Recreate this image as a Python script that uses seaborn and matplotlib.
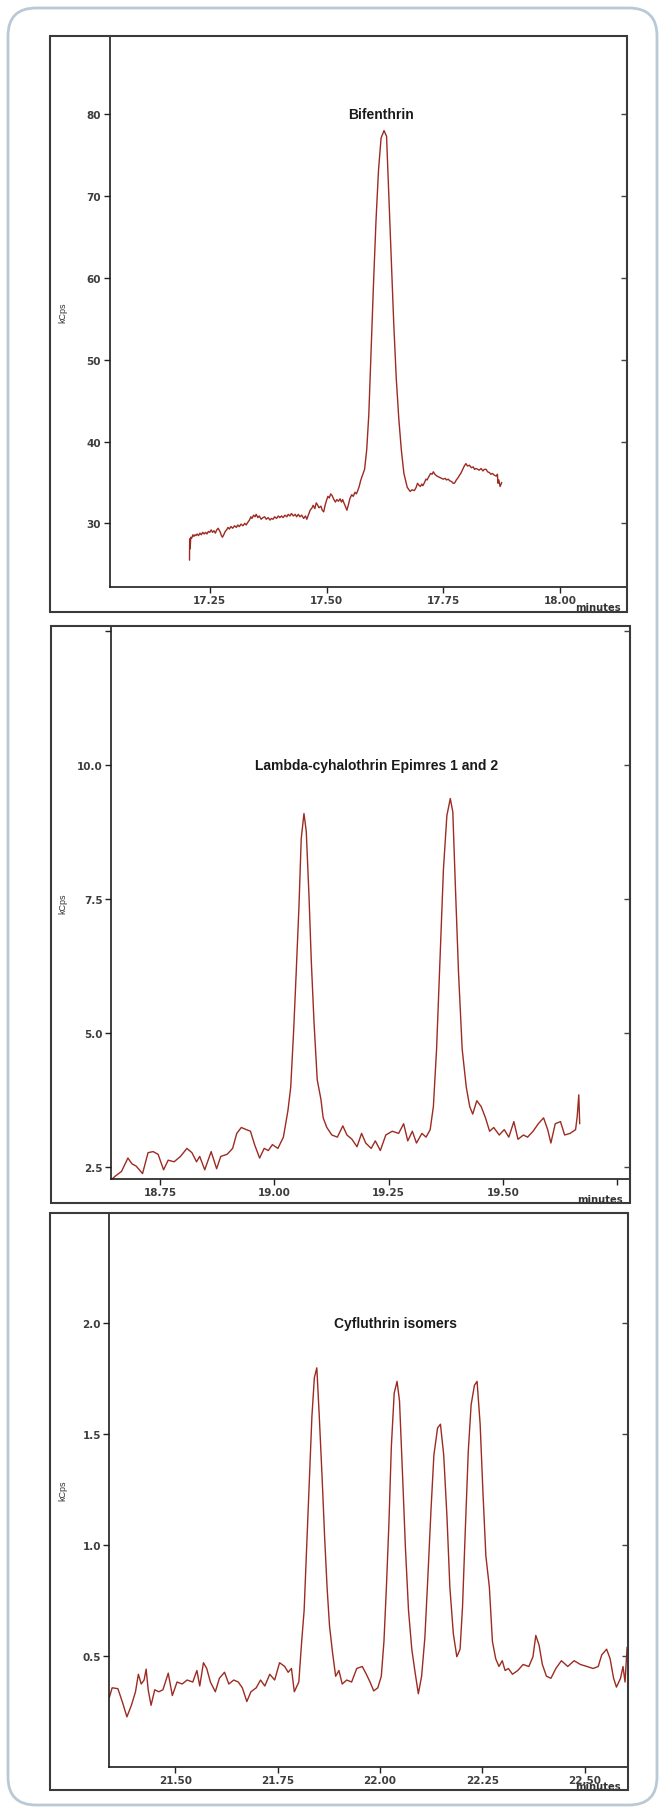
import matplotlib
matplotlib.use("Agg")
import matplotlib.pyplot as plt
import matplotlib.transforms as mtransforms
from matplotlib.patches import Rectangle, FancyBboxPatch
import pandas as pd
import seaborn as sns

# ---------------- data ----------------
# Bifenthrin trace: (minutes, kCps)
bif_points = [
    (17.2066, 25.5), (17.2070, 28.1), (17.2080, 26.9), (17.2093, 28.3), (17.2115, 28.2),
    (17.2139, 28.6), (17.2160, 28.4), (17.2184, 28.6), (17.2205, 28.5), (17.2229, 28.7),
    (17.2260, 28.5), (17.2290, 28.8), (17.2319, 28.6), (17.2350, 28.9), (17.2380, 28.7),
    (17.2410, 28.9), (17.2440, 28.7), (17.2470, 29.0), (17.2500, 28.9), (17.2530, 29.2),
    (17.2560, 28.9), (17.2590, 29.1), (17.2620, 28.8), (17.2650, 29.2), (17.2681, 29.4),
    (17.2726, 28.9), (17.2750, 28.5), (17.2771, 28.3), (17.2800, 28.6), (17.2830, 29.0),
    (17.2861, 29.2), (17.2890, 29.5), (17.2920, 29.3), (17.2952, 29.6), (17.2990, 29.4),
    (17.3030, 29.7), (17.3070, 29.5), (17.3100, 29.8), (17.3133, 29.6), (17.3170, 29.9),
    (17.3210, 29.7), (17.3250, 30.0), (17.3280, 29.8), (17.3313, 30.1), (17.3350, 30.4),
    (17.3380, 30.8), (17.3404, 30.6), (17.3440, 31.0), (17.3470, 30.8), (17.3494, 31.1),
    (17.3530, 30.7), (17.3560, 30.9), (17.3600, 30.5), (17.3640, 30.7), (17.3675, 30.8),
    (17.3710, 30.5), (17.3750, 30.7), (17.3790, 30.4), (17.3820, 30.6), (17.3855, 30.5),
    (17.3890, 30.8), (17.3930, 30.6), (17.3970, 30.9), (17.4000, 30.7), (17.4036, 30.9),
    (17.4070, 30.7), (17.4110, 31.0), (17.4150, 30.8), (17.4180, 31.1), (17.4217, 30.9),
    (17.4250, 31.2), (17.4290, 30.9), (17.4330, 31.1), (17.4360, 30.8), (17.4398, 31.1),
    (17.4430, 30.8), (17.4470, 31.0), (17.4510, 30.6), (17.4550, 30.9), (17.4578, 30.5),
    (17.4610, 31.0), (17.4650, 31.6), (17.4690, 31.9), (17.4714, 32.2), (17.4750, 31.8),
    (17.4780, 32.5), (17.4804, 32.3), (17.4840, 31.9), (17.4880, 32.1), (17.4910, 31.6),
    (17.4940, 31.4), (17.4970, 32.2), (17.5000, 32.8), (17.5030, 33.3), (17.5060, 33.1),
    (17.5090, 33.6), (17.5120, 33.4), (17.5150, 33.0), (17.5190, 32.6), (17.5220, 32.9),
    (17.5256, 32.7), (17.5290, 33.0), (17.5320, 32.6), (17.5346, 32.9), (17.5380, 32.4),
    (17.5410, 32.0), (17.5437, 31.6), (17.5470, 32.3), (17.5500, 33.0), (17.5540, 33.5),
    (17.5572, 33.3), (17.5610, 33.8), (17.5640, 33.6), (17.5663, 33.9), (17.5700, 34.5),
    (17.5730, 35.2), (17.5753, 35.6), (17.5816, 36.6), (17.5861, 39.0), (17.5906, 43.3),
    (17.5952, 50.6), (17.6006, 59.2), (17.6060, 67.0), (17.6114, 73.2), (17.6169, 77.1),
    (17.6232, 78.0), (17.6286, 77.3), (17.6331, 70.7), (17.6385, 62.6), (17.6440, 54.4),
    (17.6494, 47.7), (17.6548, 42.8), (17.6602, 39.0), (17.6657, 36.1), (17.6729, 34.4),
    (17.6792, 33.9), (17.6830, 34.1), (17.6882, 34.0), (17.6920, 34.4), (17.6950, 34.9),
    (17.6973, 34.7), (17.7010, 34.5), (17.7040, 34.8), (17.7063, 34.6), (17.7100, 35.0),
    (17.7130, 35.4), (17.7154, 35.3), (17.7190, 35.7), (17.7230, 36.1), (17.7260, 36.0),
    (17.7289, 36.3), (17.7320, 36.0), (17.7360, 35.8), (17.7390, 35.7), (17.7425, 35.6),
    (17.7460, 35.5), (17.7500, 35.4), (17.7540, 35.5), (17.7570, 35.3), (17.7605, 35.4),
    (17.7640, 35.2), (17.7680, 35.1), (17.7710, 34.9), (17.7741, 34.9), (17.7780, 35.3),
    (17.7820, 35.6), (17.7850, 35.9), (17.7876, 36.1), (17.7910, 36.5), (17.7950, 37.0),
    (17.7985, 37.3), (17.8020, 37.0), (17.8060, 37.1), (17.8102, 36.8), (17.8140, 36.9),
    (17.8170, 36.6), (17.8200, 36.7), (17.8238, 36.6), (17.8270, 36.5), (17.8310, 36.7),
    (17.8350, 36.4), (17.8380, 36.6), (17.8418, 36.6), (17.8450, 36.3), (17.8490, 36.2),
    (17.8520, 36.0), (17.8554, 36.1), (17.8590, 35.9), (17.8620, 35.8), (17.8644, 35.8),
    (17.8660, 36.0), (17.8671, 34.9), (17.8690, 35.3), (17.8717, 34.5), (17.8753, 35.0),
]
bif_time = [p[0] for p in bif_points]
bif_kcps = [p[1] for p in bif_points]

lam_time = [18.6445, 18.652, 18.666, 18.680, 18.689, 18.698, 18.712, 18.724, 18.735, 18.746,
            18.758, 18.768, 18.781, 18.795, 18.809, 18.820, 18.830, 18.837, 18.848, 18.862,
            18.874, 18.883, 18.897, 18.909, 18.918, 18.928, 18.939, 18.948, 18.957, 18.968,
            18.978, 18.987, 18.996, 19.008, 19.020, 19.030, 19.036, 19.0425, 19.048, 19.054,
            19.059, 19.065, 19.070, 19.076, 19.081, 19.087, 19.094, 19.102, 19.107, 19.115,
            19.126, 19.138, 19.150, 19.159, 19.170, 19.181, 19.191, 19.200, 19.212, 19.221,
            19.232, 19.244, 19.258, 19.272, 19.283, 19.292, 19.302, 19.311, 19.323, 19.332,
            19.341, 19.348, 19.355, 19.363, 19.370, 19.3775, 19.385, 19.3905, 19.396, 19.403,
            19.411, 19.420, 19.4275, 19.434, 19.443, 19.4525, 19.462, 19.471, 19.480, 19.492,
            19.503, 19.513, 19.524, 19.533, 19.545, 19.554, 19.566, 19.5775, 19.589, 19.598,
            19.605, 19.6145, 19.626, 19.635, 19.647, 19.659, 19.6626, 19.666, 19.668]
lam_kcps = [2.26, 2.32, 2.41, 2.66, 2.55, 2.51, 2.37, 2.76, 2.78, 2.73,
            2.44, 2.62, 2.59, 2.69, 2.84, 2.76, 2.59, 2.69, 2.44, 2.78,
            2.46, 2.69, 2.73, 2.84, 3.12, 3.23, 3.19, 3.16, 2.91, 2.66,
            2.84, 2.80, 2.91, 2.84, 3.05, 3.55, 3.98, 5.05, 6.12, 7.34,
            8.62, 9.09, 8.76, 7.55, 6.34, 5.19, 4.12, 3.76, 3.41, 3.23,
            3.09, 3.05, 3.26, 3.09, 3.01, 2.87, 3.12, 2.94, 2.84, 2.98,
            2.80, 3.09, 3.16, 3.12, 3.30, 2.98, 3.16, 2.94, 3.12, 3.05,
            3.19, 3.62, 4.69, 6.48, 8.05, 9.05, 9.37, 9.12, 7.76, 6.12,
            4.69, 3.98, 3.62, 3.48, 3.73, 3.62, 3.41, 3.16, 3.23, 3.09,
            3.19, 3.05, 3.34, 3.01, 3.09, 3.05, 3.16, 3.30, 3.41, 3.19,
            2.94, 3.30, 3.34, 3.09, 3.12, 3.19, 3.44, 3.84, 3.30]

cyf_time = [21.339, 21.346, 21.360, 21.372, 21.382, 21.393, 21.403, 21.410, 21.417, 21.424,
            21.429, 21.434, 21.441, 21.450, 21.460, 21.470, 21.483, 21.493, 21.5045, 21.517,
            21.529, 21.543, 21.553, 21.560, 21.569, 21.577, 21.586, 21.598, 21.608, 21.6205,
            21.631, 21.643, 21.654, 21.664, 21.675, 21.685, 21.698, 21.7085, 21.719, 21.731,
            21.743, 21.755, 21.7675, 21.776, 21.784, 21.791, 21.802, 21.809, 21.815, 21.821,
            21.8275, 21.834, 21.840, 21.846, 21.852, 21.859, 21.865, 21.871, 21.877, 21.8845,
            21.892, 21.900, 21.908, 21.919, 21.931, 21.9435, 21.957, 21.967, 21.976, 21.985,
            21.995, 22.0035, 22.010, 22.016, 22.022, 22.028, 22.035, 22.042, 22.048, 22.055,
            22.0625, 22.070, 22.078, 22.086, 22.094, 22.102, 22.110, 22.117, 22.125, 22.132,
            22.141, 22.148, 22.156, 22.164, 22.171, 22.1795, 22.188, 22.196, 22.202, 22.2085,
            22.216, 22.223, 22.231, 22.2375, 22.245, 22.252, 22.259, 22.2675, 22.275, 22.283,
            22.291, 22.299, 22.306, 22.314, 22.324, 22.337, 22.350, 22.364, 22.374, 22.381,
            22.389, 22.397, 22.407, 22.418, 22.430, 22.4435, 22.459, 22.4745, 22.490, 22.506,
            22.521, 22.5335, 22.542, 22.554, 22.5625, 22.571, 22.578, 22.588, 22.594, 22.599,
            22.604]
cyf_kcps = [0.313, 0.357, 0.353, 0.287, 0.226, 0.278, 0.339, 0.418, 0.374, 0.392,
            0.441, 0.348, 0.278, 0.348, 0.339, 0.348, 0.423, 0.322, 0.383, 0.374,
            0.392, 0.383, 0.435, 0.365, 0.470, 0.444, 0.383, 0.339, 0.400, 0.427,
            0.374, 0.392, 0.383, 0.357, 0.295, 0.339, 0.357, 0.392, 0.365, 0.418,
            0.392, 0.470, 0.453, 0.427, 0.444, 0.339, 0.383, 0.566, 0.706, 0.986,
            1.301, 1.580, 1.755, 1.799, 1.580, 1.301, 1.038, 0.811, 0.636, 0.514,
            0.409, 0.435, 0.374, 0.392, 0.383, 0.444, 0.453, 0.418, 0.383, 0.343,
            0.357, 0.409, 0.566, 0.811, 1.091, 1.441, 1.685, 1.738, 1.650, 1.336,
            0.986, 0.706, 0.531, 0.427, 0.330, 0.409, 0.584, 0.846, 1.161, 1.406,
            1.528, 1.545, 1.406, 1.126, 0.811, 0.601, 0.497, 0.531, 0.724, 1.056,
            1.423, 1.633, 1.720, 1.738, 1.545, 1.231, 0.951, 0.811, 0.566, 0.488,
            0.453, 0.479, 0.435, 0.444, 0.418, 0.435, 0.462, 0.453, 0.497, 0.593,
            0.549, 0.462, 0.409, 0.400, 0.444, 0.479, 0.453, 0.479, 0.462, 0.453,
            0.444, 0.453, 0.505, 0.531, 0.488, 0.400, 0.360, 0.400, 0.453, 0.383,
            0.540]

panel_titles = ["Bifenthrin", "Lambda-cyhalothrin Epimres 1 and 2", "Cyfluthrin isomers"]
x_ticks = [[17.25, 17.50, 17.75, 18.00],
           [18.75, 19.00, 19.25, 19.50, 19.75],
           [21.50, 21.75, 22.00, 22.25, 22.50]]
x_ticklabels = [["17.25", "17.50", "17.75", "18.00"],
                ["18.75", "19.00", "19.25", "19.50", ""],
                ["21.50", "21.75", "22.00", "22.25", "22.50"]]
y_ticks = [[30, 40, 50, 60, 70, 80],
           [2.5, 5.0, 7.5, 10.0, 12.5],
           [0.5, 1.0, 1.5, 2.0]]
y_ticklabels = [["30", "40", "50", "60", "70", "80"],
                ["2.5", "5.0", "7.5", "10.0", ""],
                ["0.5", "1.0", "1.5", "2.0"]]
x_label = "minutes"
y_label = "kCps"

# ---------------- layout / style ----------------
x_limits = [(17.0353, 18.1435), (18.643, 19.778), (21.339, 22.605)]
y_limits = [(22.17, 89.56), (2.265, 12.59), (0.0, 2.495)]
title_xy = [(17.617, 80.0), (19.224, 10.0), (22.037, 2.0)]

W, H = 664, 1808
axes_px = [(109.5, 37, 627, 588.4), (111, 627, 630, 1180.2), (109.3, 1214.4, 627.5, 1768)]
frame_px = [(50, 37, 627, 613), (50.5, 627, 630, 1204), (50, 1214.4, 627.5, 1791)]
minutes_px = [(621, 611), (623, 1203), (621, 1790)]
ylabel_x_px = 63

LINE = "#9c2b22"
TICKCOL = "#3d3d3d"

sns.set_theme(style="white")
plt.rcParams["font.family"] = ["DejaVu Sans"]

fig = plt.figure(figsize=(W / 100, H / 100), dpi=100)
fig.patch.set_facecolor("white")

# outer rounded border
border = FancyBboxPatch((8, H - 1806), 649, 1797,
                        boxstyle="round,pad=0,rounding_size=28",
                        transform=mtransforms.IdentityTransform(),
                        fill=False, edgecolor="#b9cad6", linewidth=2.0)
fig.add_artist(border)

series = [(bif_time, bif_kcps), (lam_time, lam_kcps), (cyf_time, cyf_kcps)]

for i, (tx, ty) in enumerate(series):
    l, t, r, b = axes_px[i]
    ax = fig.add_axes([l / W, 1 - b / H, (r - l) / W, (b - t) / H])
    df = pd.DataFrame({"time": tx, "kcps": ty})
    sns.lineplot(data=df, x="time", y="kcps", ax=ax, color=LINE, linewidth=1.0,
                 estimator=None, sort=False)
    ax.set_xlim(*x_limits[i])
    ax.set_ylim(*y_limits[i])
    ax.set_xlabel("")
    ax.set_ylabel("")
    ax.set_xticks(x_ticks[i], labels=x_ticklabels[i], fontsize=7.5, fontweight="bold", color=TICKCOL)
    ax.set_yticks(y_ticks[i], labels=y_ticklabels[i], fontsize=7.5, fontweight="bold", color=TICKCOL)
    ax.tick_params(axis="x", bottom=True, direction="out", length=4, width=1.0, pad=1.5, color="#222222")
    ax.tick_params(axis="y", left=True, direction="out", length=4.5, width=1.0, pad=1.5, color="#222222")
    for side in ("top", "right"):
        ax.spines[side].set_visible(False)
    for side in ("left", "bottom"):
        ax.spines[side].set_visible(True)
        ax.spines[side].set_color("#1e1e1e")
        ax.spines[side].set_linewidth(1.2)

    # inward ticks on the right edge
    ax2 = ax.twinx()
    ax2.set_ylim(*y_limits[i])
    ax2.set_yticks(y_ticks[i])
    ax2.tick_params(axis="y", right=True, direction="in", length=4, width=1.0,
                    labelright=False, color="#444444")
    for s in ax2.spines.values():
        s.set_visible(False)
    ax2.grid(False)

    ax.text(title_xy[i][0], title_xy[i][1], panel_titles[i], ha="center", va="center",
            fontsize=10, fontweight="bold", family="Liberation Sans", color="#1a1a1a")

    # panel frame
    fl, ft, fr, fb = frame_px[i]
    fig.add_artist(Rectangle((fl / W, 1 - fb / H), (fr - fl) / W, (fb - ft) / H,
                             transform=fig.transFigure, fill=False,
                             edgecolor="#3a3a3a", linewidth=1.5, zorder=5))

    mx, my = minutes_px[i]
    fig.text(mx / W, 1 - my / H, x_label, ha="right", va="baseline",
             fontsize=7.2, fontweight="bold", color="#333333")
    fig.text(ylabel_x_px / W, 1 - ((t + b) / 2) / H, y_label, rotation=90,
             ha="center", va="center", fontsize=6.5, family="Liberation Sans", color="#333333")

fig.savefig("out.png", dpi=100, facecolor="white")
